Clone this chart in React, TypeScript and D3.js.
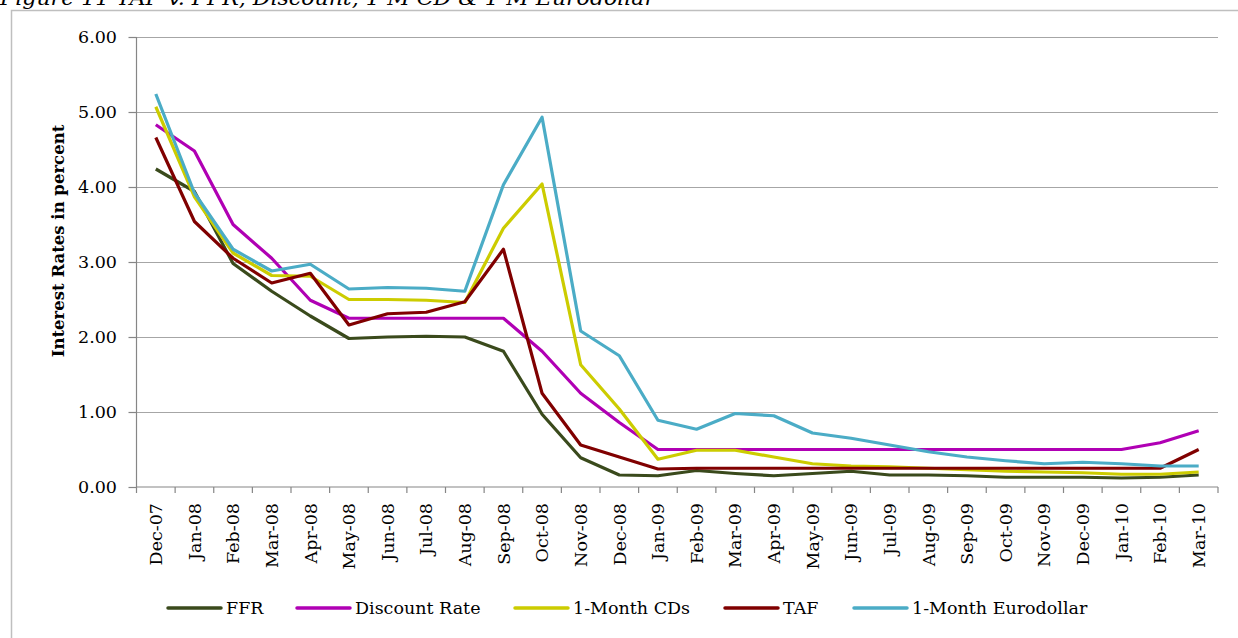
import React from "react";
import * as d3 from "d3";

const months = [
  "Dec-07","Jan-08","Feb-08","Mar-08","Apr-08","May-08","Jun-08","Jul-08","Aug-08","Sep-08","Oct-08","Nov-08","Dec-08",
  "Jan-09","Feb-09","Mar-09","Apr-09","May-09","Jun-09","Jul-09","Aug-09","Sep-09","Oct-09","Nov-09","Dec-09",
  "Jan-10","Feb-10","Mar-10",
];

const ffr = [4.24,3.94,2.98,2.61,2.28,1.98,2.00,2.01,2.00,1.81,0.97,0.39,0.16,0.15,0.22,0.18,0.15,0.18,0.21,0.16,0.16,0.15,0.13,0.13,0.13,0.12,0.13,0.16];
const discountRate = [4.83,4.48,3.50,3.05,2.49,2.25,2.25,2.25,2.25,2.25,1.81,1.25,0.86,0.50,0.50,0.50,0.50,0.50,0.50,0.50,0.50,0.50,0.50,0.50,0.50,0.50,0.59,0.75];
const oneMonthCDs = [5.07,3.87,3.12,2.82,2.81,2.50,2.50,2.49,2.46,3.45,4.04,1.63,1.04,0.37,0.49,0.49,0.40,0.31,0.28,0.27,0.25,0.23,0.21,0.20,0.19,0.17,0.17,0.20];
const taf = [4.66,3.54,3.05,2.72,2.85,2.16,2.31,2.33,2.47,3.17,1.25,0.56,0.40,0.24,0.25,0.25,0.25,0.25,0.25,0.25,0.25,0.25,0.25,0.25,0.25,0.25,0.25,0.50];
const eurodollar = [5.24,3.92,3.17,2.88,2.97,2.64,2.66,2.65,2.61,4.03,4.93,2.08,1.75,0.89,0.77,0.98,0.95,0.72,0.65,0.56,0.47,0.40,0.35,0.31,0.33,0.31,0.28,0.28];

const yTicks = [0, 1, 2, 3, 4, 5, 6];

const seriesNames = ["FFR", "Discount Rate", "1-Month CDs", "TAF", "1-Month Eurodollar"];
const seriesColors = ["#3a4a1c", "#b000b4", "#cccc00", "#800000", "#4bacc6"];
const seriesValues = [ffr, discountRate, oneMonthCDs, taf, eurodollar];

const legendLineX = [168, 297, 515, 725, 854];

const FONT = "'DejaVu Serif', serif";

export default function App() {
  const W = 1238, H = 638;
  const left = 136.5, right = 1218, top = 37, bottom = 487;
  const x = d3.scaleBand<string>().domain(months).range([left, right]);
  const y = d3.scaleLinear().domain([0, 6]).range([bottom, top]);
  const line = d3
    .line<number>()
    .x((_, i) => (x(months[i]) as number) + x.bandwidth() / 2)
    .y((d) => y(d));

  const boundaries = d3.range(months.length + 1).map((k) => left + k * x.bandwidth());

  return (
    <svg
      width={W}
      height={H}
      style={{ position: "absolute", left: 0, top: 0, background: "#fff" }}
    >
      <text
        x={0}
        y={5}
        fontFamily={FONT}
        fontStyle="italic"
        fontSize={20}
        textLength={655}
        lengthAdjust="spacingAndGlyphs"
        fill="#000"
      >
        Figure 11 TAF v. FFR, Discount, 1-M CD &amp; 1-M Eurodollar
      </text>
      <rect x={11.5} y={10.5} width={1300} height={700} fill="none" stroke="#bfbfbf" strokeWidth={1.5} />

      {/* gridlines */}
      {yTicks.filter((t) => t > 0).map((t) => (
        <line key={t} x1={left} x2={right} y1={Math.round(y(t)) + 0.5} y2={Math.round(y(t)) + 0.5} stroke="#a6a6a6" strokeWidth={1.2} />
      ))}
      {/* y axis */}
      <line x1={left} x2={left} y1={top} y2={bottom} stroke="#868686" strokeWidth={1.2} />
      {yTicks.map((t) => (
        <g key={t}>
          <line x1={left - 8} x2={left} y1={Math.round(y(t)) + 0.5} y2={Math.round(y(t)) + 0.5} stroke="#868686" strokeWidth={1.2} />
          <text x={117} y={y(t)} dy="0.36em" textAnchor="end" fontFamily={FONT} fontSize={17.5} fill="#000">
            {t.toFixed(2)}
          </text>
        </g>
      ))}
      {/* x axis */}
      <line x1={left} x2={right} y1={bottom} y2={bottom} stroke="#868686" strokeWidth={1.2} />
      {boundaries.map((bx, k) => (
        <line key={k} x1={bx} x2={bx} y1={bottom} y2={bottom + 6} stroke="#868686" strokeWidth={1.2} />
      ))}
      {months.map((m) => {
        const cx = (x(m) as number) + x.bandwidth() / 2;
        return (
          <text
            key={m}
            transform={`translate(${cx + 6.3},503) rotate(-90)`}
            textAnchor="end"
            fontFamily={FONT}
            fontSize={17.5}
            fill="#000"
          >
            {m}
          </text>
        );
      })}

      <text
        transform="translate(64,241) rotate(-90)"
        textAnchor="middle"
        fontFamily={FONT}
        fontWeight="bold"
        fontSize={16.5}
        fill="#000"
      >
        Interest Rates in percent
      </text>

      {/* series */}
      {seriesValues.map((vals, si) => (
        <path
          key={seriesNames[si]}
          d={line(vals) as string}
          fill="none"
          stroke={seriesColors[si]}
          strokeWidth={3.2}
          strokeLinejoin="round"
        />
      ))}

      {/* legend */}
      {seriesNames.map((n, si) => (
        <g key={n}>
          <line
            x1={legendLineX[si]}
            x2={legendLineX[si] + 53}
            y1={608}
            y2={608}
            stroke={seriesColors[si]}
            strokeWidth={3.5}
            strokeLinecap="round"
          />
          <text x={legendLineX[si] + 58} y={614} fontFamily={FONT} fontSize={17.5} fill="#000">
            {n}
          </text>
        </g>
      ))}
    </svg>
  );
}
